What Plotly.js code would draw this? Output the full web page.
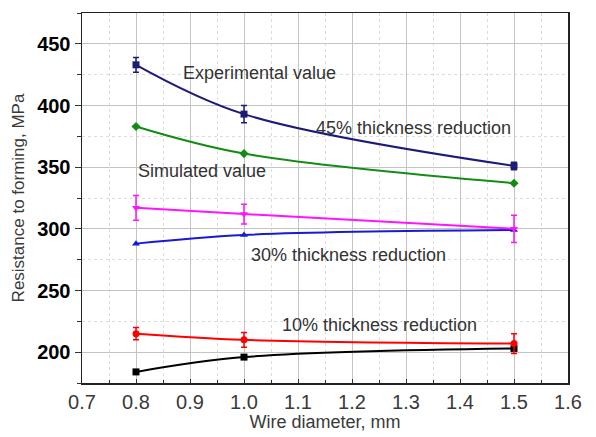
<!DOCTYPE html>
<html>
<head>
<meta charset="utf-8">
<script src="https://cdn.plot.ly/plotly-3.0.1.min.js"></script>
<style>html,body{margin:0;padding:0;background:#fff;}#chart{width:596px;height:437px;}</style>
</head>
<body>
<div id="chart"></div>
<script>
// Wire diameter, mm
const diameters = [0.8, 1.0, 1.5];

// 45% thickness reduction
const exp45 = [433, 393, 351];
const exp45Err = [6, 7, 3];
const sim45 = [383, 361, 337];

// 30% thickness reduction
const exp30 = [317, 312, 300];
const exp30Err = [10, 8, 11];
const sim30 = [288, 295, 299];

// 10% thickness reduction
const exp10 = [215, 210, 207];
const exp10Err = [5, 6, 8];
const sim10 = [184, 196, 203];

const labels = [
  {text: 'Experimental value', x: 0.883, y: 426},
  {text: '45% thickness reduction', x: 1.13, y: 382},
  {text: 'Simulated value', x: 0.8, y: 347},
  {text: '30% thickness reduction', x: 1.01, y: 279},
  {text: '10% thickness reduction', x: 1.066, y: 222}
];

const FONT = 'Liberation Sans, Arial, Helvetica, sans-serif';

function series(y, color, symbol, err) {
  const t = {
    x: diameters, y: y, type: 'scatter', mode: 'lines+markers',
    line: {color: color, width: 2, shape: 'spline', smoothing: 1},
    marker: {color: color, symbol: symbol, size: 7},
    showlegend: false, hoverinfo: 'skip'
  };
  if (err) {
    t.error_y = {type: 'data', array: err, visible: true, color: color, thickness: 1.5, width: 3};
  }
  return t;
}

const data = [
  series(sim10, '#000000', 'square', null),
  series(exp10, '#ff0000', 'circle', exp10Err),
  series(sim30, '#1a1ad2', 'triangle-up', null),
  series(exp30, '#ff14ff', 'triangle-down', exp30Err),
  series(sim45, '#128c12', 'diamond', null),
  series(exp45, '#1c1c78', 'square', exp45Err)
];

const layout = {
  width: 596, height: 437,
  margin: {l: 82, r: 28, t: 13, b: 54},
  paper_bgcolor: '#ffffff', plot_bgcolor: '#ffffff',
  font: {family: FONT},
  showlegend: false,
  xaxis: {
    range: [0.7, 1.6], dtick: 0.1, tick0: 0.7, tickformat: '.1f',
    showline: true, mirror: true, linecolor: '#222', linewidth: 1.5,
    showgrid: true, gridcolor: '#c4c4c4', gridwidth: 1,
    zeroline: false,
    ticks: 'inside', ticklen: 4, tickcolor: '#333',
    tickfont: {size: 20, color: '#3a3a3a', family: FONT},
    minor: {dtick: 0.05, showgrid: true, gridcolor: '#dcdcdc', griddash: 'dot', ticks: 'inside', ticklen: 3, tickcolor: '#333'},
    title: {text: 'Wire diameter, mm', font: {size: 18, color: '#3a3a3a', family: FONT}, standoff: 1}
  },
  yaxis: {
    range: [175, 475], dtick: 50, tick0: 200,
    showline: true, mirror: true, linecolor: '#222', linewidth: 1.5,
    showgrid: true, gridcolor: '#c4c4c4', gridwidth: 1,
    zeroline: false,
    ticks: 'outside', ticklen: 6, tickcolor: '#333',
    tickfont: {size: 20, color: '#000', family: FONT, weight: 'bold'},
    minor: {dtick: 25, showgrid: true, gridcolor: '#dcdcdc', griddash: 'dot', ticks: 'outside', ticklen: 4, tickcolor: '#333'},
    title: {text: 'Resistance to forming, MPa', font: {size: 17, color: '#3a3a3a', family: FONT}, standoff: 8}
  },
  annotations: labels.map(l => ({
    text: l.text, x: l.x, y: l.y, xref: 'x', yref: 'y',
    xanchor: 'left', yanchor: 'middle', showarrow: false,
    font: {size: 18, color: '#333', family: FONT}
  }))
};

Plotly.newPlot('chart', data, layout, {displayModeBar: false, staticPlot: true});
</script>
</body>
</html>
